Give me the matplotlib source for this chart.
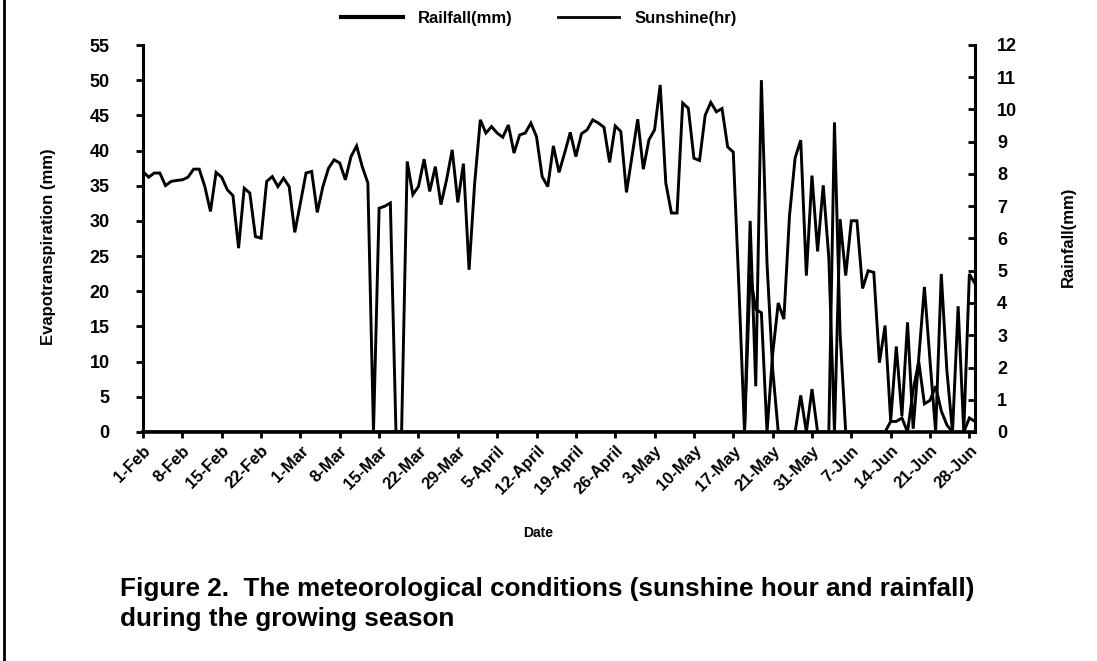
import matplotlib
matplotlib.use("Agg")
import matplotlib.pyplot as plt
from matplotlib.lines import Line2D
import numpy as np

# ---------------- data ----------------
# Sunshine hours (right axis, 0-12)
sunshine_hr = [
    8.08, 7.90, 8.03, 8.03, 7.64, 7.77, 7.80, 7.82, 7.90, 8.15,
    8.15, 7.61, 6.84, 8.05, 7.90, 7.51, 7.33, 5.70, 7.56, 7.41,
    6.06, 6.01, 7.77, 7.92, 7.61, 7.87,
    7.61, 6.19, 7.10, 8.03, 8.08, 6.81, 7.61, 8.18, 8.44, 8.34,
    7.82, 8.54, 8.87, 8.23, 7.72, 0.00, 6.94, 7.00, 7.10, 0.00,
    0.00, 8.39, 7.36,
    7.61, 8.46, 7.46, 8.23, 7.05, 7.82, 8.75, 7.12, 8.32, 5.03,
    7.72, 9.68, 9.27, 9.47, 9.27, 9.14, 9.52, 8.65, 9.21, 9.27,
    9.58, 9.16, 7.92, 7.61,
    8.87, 8.05, 8.65, 9.29, 8.54, 9.25, 9.37, 9.68, 9.58, 9.45,
    8.36, 9.49, 9.32, 7.43, 8.56, 9.70, 8.15, 9.06, 9.37, 10.76,
    7.72, 6.79, 6.79, 10.20, 10.04, 8.49,
    8.42, 9.82, 10.22, 9.93, 10.03, 8.84, 8.68,
    4.50, 0.00, 4.90, 3.80, 3.70, 0.00, 2.40, 4.00, 3.50, 6.70,
    8.50, 9.05, 4.85, 7.95, 5.60, 7.65, 5.40,
    0.00, 6.60, 4.85, 6.55, 6.55, 4.45, 5.00, 4.95,
    2.15, 3.30, 0.35, 2.65, 0.50, 3.40, 0.10, 2.30, 4.50, 2.20,
    0.00, 4.90, 1.90, 0.00, 3.90, 0.00, 4.90, 4.60,
]

# Rainfall mm (left axis, 0-55)
rainfall_mm = [
    0, 0, 0, 0, 0, 0, 0, 0, 0, 0, 0, 0, 0, 0, 0, 0, 0, 0, 0, 0,
    0, 0, 0, 0, 0, 0, 0, 0, 0, 0, 0, 0, 0, 0, 0, 0, 0, 0, 0, 0,
    0, 0, 0, 0, 0, 0, 0, 0, 0, 0, 0, 0, 0, 0, 0, 0, 0, 0, 0, 0,
    0, 0, 0, 0, 0, 0, 0, 0, 0, 0, 0, 0, 0, 0, 0, 0, 0, 0, 0, 0,
    0, 0, 0, 0, 0, 0, 0, 0, 0, 0, 0, 0, 0, 0, 0, 0, 0, 0, 0, 0,
    0, 0, 0, 0, 0, 0, 0,
    0, 30, 6.5, 50, 24, 9, 0, 0, 0, 0,
    5.2, 0, 6.1, 0, 0, 0, 44, 14, 0, 0,
    0, 0, 0, 0, 0, 0, 1.5, 1.5, 2.0, 0,
    6, 10, 4, 4.5, 6.5, 3, 1, 0, 0, 0,
    2, 1.5,
]

tick_labels = ['1-Feb', '8-Feb', '15-Feb', '22-Feb', '1-Mar', '8-Mar', '15-Mar',
               '22-Mar', '29-Mar', '5-April', '12-April', '19-April', '26-April',
               '3-May', '10-May', '17-May', '21-May', '31-May', '7-Jun', '14-Jun',
               '21-Jun', '28-Jun']
tick_every = 7

left_ticks = [0, 5, 10, 15, 20, 25, 30, 35, 40, 45, 50, 55]
right_ticks = [0, 1, 2, 3, 4, 5, 6, 7, 8, 9, 10, 11, 12]

# ---------------- style ----------------
plt.rcParams['font.family'] = ['Liberation Sans', 'DejaVu Sans']
plt.rcParams['font.weight'] = 'bold'

W, H = 1097, 661
fig = plt.figure(figsize=(W / 100, H / 100), dpi=100)
fig.patch.set_facecolor('white')

x0, x1, y0, y1 = 143, 975, 45, 432
ax = fig.add_axes([x0 / W, 1 - y1 / H, (x1 - x0) / W, (y1 - y0) / H])
ax2 = ax.twinx()

x = np.arange(len(sunshine_hr))
lw = 2.1
ax.plot(x, rainfall_mm, color='black', lw=lw, solid_joinstyle='miter', zorder=3)
ax2.plot(x, sunshine_hr, color='black', lw=lw, solid_joinstyle='miter', zorder=3)

ax.set_xlim(0, len(sunshine_hr) - 1)
ax.set_ylim(0, 55)
ax2.set_ylim(0, 12)
ax.set_yticks(left_ticks)
ax2.set_yticks(right_ticks)

xt = [i * tick_every for i in range(len(tick_labels))]
ax.set_xticks(xt)
ax.set_xticklabels(tick_labels, rotation=45, ha='right', va='top',
                   rotation_mode='anchor', fontsize=12, fontweight='bold')

for a in (ax, ax2):
    a.spines['top'].set_visible(False)
    a.patch.set_visible(False)
ax.spines['right'].set_visible(False)
ax2.spines['left'].set_visible(False)
ax2.spines['bottom'].set_visible(False)
ax.spines['left'].set_linewidth(2.2)
ax.spines['bottom'].set_linewidth(2.6)
ax2.spines['right'].set_linewidth(2.2)

ax.tick_params(axis='y', direction='out', length=5, width=2, labelsize=13, pad=19)
ax2.tick_params(axis='y', direction='in', length=5, width=2, labelsize=13, pad=16)
ax.tick_params(axis='x', direction='out', length=4, width=2, pad=4)
for lab in ax.get_yticklabels() + ax2.get_yticklabels():
    lab.set_fontweight('bold')

ax.set_ylabel('Evapotranspiration (mm)', fontsize=12, fontweight='bold')
ax.yaxis.set_label_coords((56 - x0) / (x1 - x0), 0.48)
ax2.set_ylabel('Rainfall(mm)', fontsize=12, fontweight='bold')
ax2.yaxis.set_label_coords((1061 - x0) / (x1 - x0), 0.505)
ax2.yaxis.label.set_rotation(90)
ax.set_xlabel('Date', fontsize=10, fontweight='bold')
ax.xaxis.set_label_coords((538 - x0) / (x1 - x0), -(526 - y1) / (y1 - y0))

handles = [Line2D([], [], color='black', lw=3.0),
           Line2D([], [], color='black', lw=2.0)]
leg = ax.legend(handles, ['Railfall(mm)', 'Sunshine(hr)'], ncol=2, frameon=False,
                loc='center', bbox_to_anchor=((539 - x0) / (x1 - x0), 1 + (y0 - 18) / (y1 - y0)),
                handlelength=3.7, handletextpad=0.9, columnspacing=2.7,
                prop={'weight': 'bold', 'size': 12})

fig.text(120 / W, 1 - 589 / H,
         'Figure 2.  The meteorological conditions (sunshine hour and rainfall)',
         fontsize=18.8, fontweight='bold', va='center', ha='left')
fig.text(120 / W, 1 - 619 / H, 'during the growing season',
         fontsize=18.8, fontweight='bold', va='center', ha='left')

fig.add_artist(Line2D([4 / W, 4 / W], [0, 1], color='black', lw=2.0,
                      transform=fig.transFigure))

fig.savefig('out.png', dpi=100, facecolor='white')
